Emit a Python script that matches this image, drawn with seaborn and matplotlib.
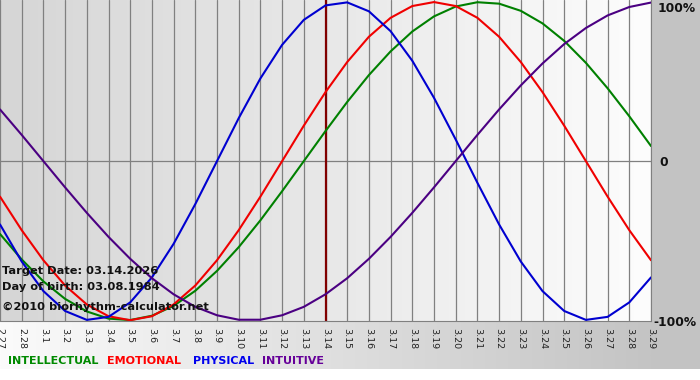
import numpy as np
import pandas as pd
import matplotlib
matplotlib.use("Agg")
import matplotlib.pyplot as plt
import seaborn as sns

# days shown on the chart (2.27 .. 3.29)
days = ["2.27", "2.28", "3.1", "3.2", "3.3", "3.4", "3.5", "3.6", "3.7", "3.8",
        "3.9", "3.10", "3.11", "3.12", "3.13", "3.14", "3.15", "3.16", "3.17", "3.18",
        "3.19", "3.20", "3.21", "3.22", "3.23", "3.24", "3.25", "3.26", "3.27", "3.28",
        "3.29"]

# values, -1 .. 1 (= -100% .. 100%)
intellectual = [-0.458, -0.618, -0.756, -0.866, -0.945, -0.990, -0.999, -0.972, -0.910, -0.815,
                -0.690, -0.541, -0.372, -0.189, 0.0, 0.189, 0.372, 0.541, 0.690, 0.815,
                0.910, 0.972, 0.999, 0.990, 0.945, 0.866, 0.756, 0.618, 0.458, 0.282,
                0.095]
emotional = [-0.223, -0.434, -0.623, -0.782, -0.901, -0.975, -1.0, -0.975, -0.901, -0.782,
             -0.623, -0.434, -0.223, 0.0, 0.223, 0.434, 0.623, 0.782, 0.901, 0.975,
             1.0, 0.975, 0.901, 0.782, 0.623, 0.434, 0.223, 0.0, -0.223, -0.434,
             -0.623]
physical = [-0.398, -0.631, -0.817, -0.942, -0.998, -0.979, -0.888, -0.731, -0.520, -0.270,
            0.0, 0.270, 0.520, 0.731, 0.888, 0.979, 0.998, 0.942, 0.817, 0.631,
            0.398, 0.136, -0.136, -0.398, -0.631, -0.817, -0.942, -0.998, -0.979, -0.888,
            -0.731]
intuitive = [0.325, 0.165, 0.0, -0.165, -0.325, -0.476, -0.614, -0.736, -0.837, -0.916,
             -0.969, -0.997, -0.997, -0.969, -0.916, -0.837, -0.736, -0.614, -0.476, -0.325,
             -0.165, 0.0, 0.165, 0.325, 0.476, 0.614, 0.736, 0.837, 0.916, 0.969,
             0.997]

series = ["INTELLECTUAL", "EMOTIONAL", "PHYSICAL", "INTUITIVE"]
colors = {"INTELLECTUAL": "#008000", "EMOTIONAL": "#f00000",
          "PHYSICAL": "#0000d0", "INTUITIVE": "#4b0082"}
legend_colors = {"INTELLECTUAL": "#008a00", "EMOTIONAL": "#ff0000",
                 "PHYSICAL": "#0000ee", "INTUITIVE": "#660099"}
target_day = "3.14"

frames = []
for name, vals in zip(series, [intellectual, emotional, physical, intuitive]):
    frames.append(pd.DataFrame({"day": range(len(days)), "value": vals, "series": name}))
df = pd.concat(frames)

sns.set_style("white")
plt.rcParams['font.family'] = ['DejaVu Sans']

W, H = 700, 380
fig = plt.figure(figsize=(7, 3.8), dpi=100)
fig.patch.set_facecolor("white")

def px(x0, y0, x1, y1):
    # pixel box (from top-left) -> figure fraction rect
    return [x0 / W, (H - y1) / H, (x1 - x0) / W, (y1 - y0) / H]

# right grey strip
side = fig.add_axes(px(651, 0, 700, 369))
side.set_axis_off()
side.add_patch(plt.Rectangle((0, 0), 1, 1, color="#c3c3c3", transform=side.transAxes))

# bottom band gradient (light left -> grey right)
band = fig.add_axes(px(0, 321, 651, 369))
grad = np.linspace(0, 1, 256)[None, :]
band.imshow(grad, aspect="auto", cmap=matplotlib.colors.LinearSegmentedColormap.from_list(
    "b", ["#fbfbfb", "#c4c4c4"]), extent=(0, 1, 0, 1))
band.set_axis_off()

# main plot
ax = fig.add_axes(px(0, 0, 651, 321))
ax.imshow(grad, aspect="auto", cmap=matplotlib.colors.LinearSegmentedColormap.from_list(
    "p", ["#d6d6d6", "#e8e8e8", "#fdfdfd"]), extent=(0, len(days) - 1, -1.005, 1.013),
    zorder=0)

for i in range(len(days)):
    ax.axvline(i, color="#808080", lw=0.9, zorder=1)
ax.axhline(0, color="#808080", lw=0.9, zorder=1)
ax.axvline(days.index(target_day), color="#800000", lw=1.6, zorder=2)

sns.lineplot(data=df, x="day", y="value", hue="series", hue_order=series,
             palette=colors, linewidth=1.5, legend=False, ax=ax, zorder=3)

ax.set_xlim(0, len(days) - 1)
ax.set_ylim(-1.005, 1.013)
ax.set_xticks(range(len(days)))
ax.set_xticklabels(days, rotation=270, fontsize=6.8, color="#222222")
ax.tick_params(axis="x", length=4, color="#808080", pad=1)
ax.set_yticks([])
ax.set_xlabel("")
ax.set_ylabel("")
for s in ax.spines.values():
    s.set_visible(False)
ax.spines["bottom"].set_visible(True)
ax.spines["bottom"].set_color("#808080")
ax.spines["right"].set_visible(True)
ax.spines["right"].set_color("#808080")

# percentage labels on the right
for txt, xp, yp in [("100%", 658, 8), ("0", 659, 162), ("-100%", 653, 322)]:
    fig.text(xp / W, (H - yp) / H, txt, fontsize=8.8, fontweight="bold",
             color="#111111", va="center", ha="left")

info = ["Target Date: 03.14.2026", "Day of birth: 03.08.1984", "\u00a92010 biorhythm-calculator.net"]
for txt, yp in zip(info, [271, 287, 307]):
    fig.text(2 / W, (H - yp) / H, txt, fontsize=8.2, fontweight="bold", color="#111111",
             va="center", ha="left", zorder=10)

for name, xp in zip(series, [8, 107, 193, 262]):
    fig.text(xp / W, (H - 361) / H, name, fontsize=8.0, fontweight="bold",
             color=legend_colors[name], va="center", ha="left")

fig.savefig("out.png", dpi=100)
